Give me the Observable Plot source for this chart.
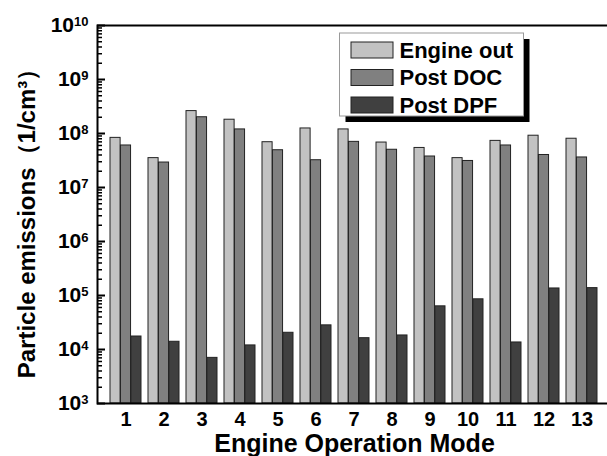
<!DOCTYPE html>
<html>
<head>
<meta charset="utf-8">
<script src="https://cdn.jsdelivr.net/npm/d3@7"></script>
<script src="https://cdn.jsdelivr.net/npm/@observablehq/plot@0.6"></script>
<style>
  body { margin: 0; background: #fff; overflow: hidden; }
</style>
</head>
<body>
<div id="chart"></div>
<script>
// Engine operation modes (categories)
const modes = ["1", "2", "3", "4", "5", "6", "7", "8", "9", "10", "11", "12", "13"];

// Particle number concentrations, 1/cm³
const engineOut = [8.3e7, 3.5e7, 2.6e8, 1.8e8, 6.9e7, 1.24e8, 1.19e8, 6.8e7, 5.4e7, 3.5e7, 7.3e7, 9.1e7, 8.0e7];
const postDOC   = [6.0e7, 2.9e7, 2.0e8, 1.19e8, 4.9e7, 3.2e7, 7.0e7, 5.0e7, 3.75e7, 3.1e7, 6.0e7, 4.0e7, 3.6e7];
const postDPF   = [1.74e4, 1.39e4, 7.0e3, 1.19e4, 2.04e4, 2.8e4, 1.62e4, 1.82e4, 6.3e4, 8.5e4, 1.35e4, 1.35e5, 1.37e5];

const seriesNames = ["Engine out", "Post DOC", "Post DPF"];
const seriesFills = ["#c2c2c2", "#808080", "#404040"];

// Decade tick values on the log axis
const yExponents = [3, 4, 5, 6, 7, 8, 9, 10];

const font = "'Liberation Sans', Arial, Helvetica, sans-serif";
const width = 607, height = 456;
const margin = {top: 25, right: -4, bottom: 53, left: 97};
const padInner = 0.184, padOuter = 0.284;

// Width of one bar inside a mode's band
const frameW = width - margin.left - margin.right;
const step = frameW / (modes.length - padInner + 2 * padOuter);
const bandW = step * (1 - padInner);
const barW = bandW / seriesNames.length;

const seriesValues = [engineOut, postDOC, postDPF];
const rows = modes.flatMap((m, j) =>
  seriesNames.map((s, i) => ({mode: m, series: s, index: i, value: seriesValues[i][j]}))
);

const majorTicks = yExponents.map(e => 10 ** e);
const minorTicks = yExponents.slice(0, -1).flatMap(e => d3.range(2, 10).map(k => k * 10 ** e));
const yMin = majorTicks[0], yMax = majorTicks[majorTicks.length - 1];

const bars = seriesNames.map((s, i) => Plot.barY(rows.filter(r => r.index === i), {
  x: "mode",
  y1: yMin,
  y2: "value",
  fill: seriesFills[i],
  stroke: "#222",
  strokeWidth: 1,
  insetLeft: i * barW,
  insetRight: (seriesNames.length - 1 - i) * barW
}));

const chart = Plot.plot({
  width, height,
  marginTop: margin.top,
  marginRight: margin.right,
  marginBottom: margin.bottom,
  marginLeft: margin.left,
  style: {fontFamily: font, background: "#fff", color: "#000", overflow: "hidden"},
  x: {domain: modes, paddingInner: padInner, paddingOuter: padOuter},
  y: {type: "log", domain: [yMin, yMax]},
  marks: [
    ...bars,
    // inward tick marks on the left axis
    Plot.tickY(minorTicks, {y: d => d, stroke: "#000", strokeWidth: 1.5, insetRight: frameW - 5}),
    Plot.tickY(majorTicks, {y: d => d, stroke: "#000", strokeWidth: 2, insetRight: frameW - 8}),
    Plot.axisY({
      ticks: majorTicks,
      tickSize: 0,
      tickPadding: 9,
      tickFormat: d => `10^${Math.round(Math.log10(d))}`,
      fontSize: 21,
      fontWeight: "bold",
      label: null
    }),
    Plot.axisX({
      tickSize: 0,
      tickPadding: 8,
      fontSize: 20,
      fontWeight: "bold",
      label: null
    }),
    Plot.frame({stroke: "#000", strokeWidth: 2}),
    Plot.text(["Engine Operation Mode"], {
      frameAnchor: "bottom",
      textAnchor: "middle",
      lineAnchor: "middle",
      dy: 40,
      fontSize: 25,
      fontWeight: "bold",
      text: d => d
    }),
    Plot.text(["Particle emissions（1/cm³）"], {
      frameAnchor: "left",
      textAnchor: "middle",
      lineAnchor: "middle",
      rotate: -90,
      dx: -70,
      dy: 3,
      fontSize: 24,
      fontWeight: "bold",
      text: d => d
    })
  ]
});

// Render decade labels as 10 with a raised exponent
d3.select(chart).selectAll('g[aria-label="y-axis tick label"] text').each(function () {
  const t = d3.select(this);
  const exp = t.text().split("^")[1];
  t.text("10");
  t.append("tspan").attr("dy", "-0.5em").attr("font-size", 13).text(exp);
});

// Legend with drop shadow
const svg = d3.select(chart);
const lg = svg.append("g").attr("font-family", font).attr("font-weight", "bold").attr("text-anchor", "start");
const box = {x: 339.5, y: 33, w: 184, h: 83, shadow: 6};
lg.append("rect").attr("x", box.x + box.shadow).attr("y", box.y + box.shadow)
  .attr("width", box.w).attr("height", box.h).attr("fill", "#000");
lg.append("rect").attr("x", box.x).attr("y", box.y).attr("width", box.w).attr("height", box.h)
  .attr("fill", "#fff").attr("stroke", "#999").attr("stroke-width", 1);
seriesNames.forEach((s, i) => {
  const y0 = box.y + 9 + i * 27.5;
  lg.append("rect").attr("x", box.x + 11.5).attr("y", y0).attr("width", 42).attr("height", 16)
    .attr("fill", seriesFills[i]).attr("stroke", "#222").attr("stroke-width", 1);
  lg.append("text").attr("x", box.x + 60).attr("y", y0 + 15.5).attr("font-size", 22)
    .attr("fill", "#000").text(s);
});

document.getElementById("chart").append(chart);
</script>
</body>
</html>
